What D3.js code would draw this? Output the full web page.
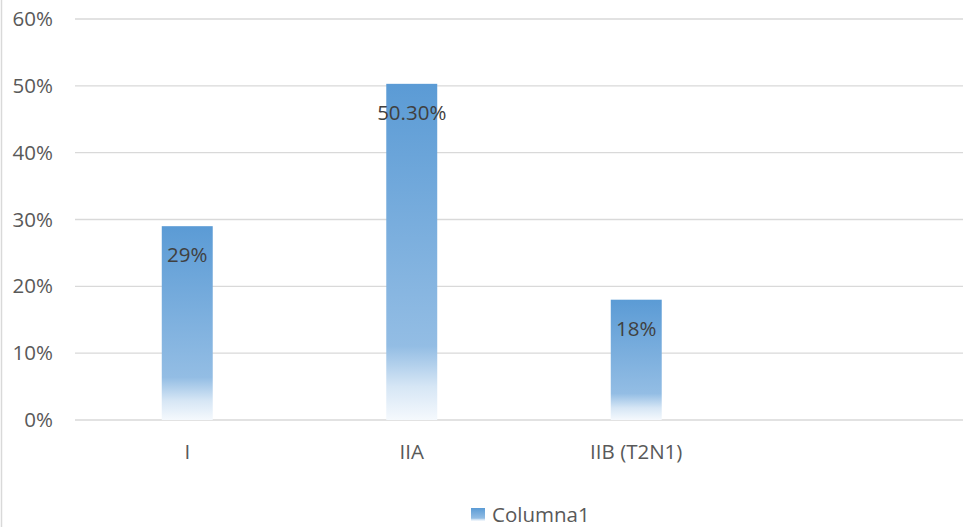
<!DOCTYPE html>
<html>
<head>
<meta charset="utf-8">
<script src="https://cdn.jsdelivr.net/npm/d3@7"></script>
<style>
  html, body { margin: 0; padding: 0; background: #fff; overflow: hidden; }
  svg { display: block; font-family: "Open Sans", "Noto Sans", sans-serif; }
</style>
</head>
<body>
<div id="chart"></div>
<script>
const categories = ['I', 'IIA', 'IIB (T2N1)', ''];
const values = [0.29, 0.503, 0.18, null];
const valueLabels = ['29%', '50.30%', '18%', ''];
const yTicks = [0, 0.1, 0.2, 0.3, 0.4, 0.5, 0.6];
const seriesName = 'Columna1';

const W = 963, H = 527;
const margin = { top: 19, left: 75, bottom: 107 };
const plotRight = 973;
const FONT = '20.5px';

const svg = d3.select('#chart')
  .append('svg')
  .attr('width', W)
  .attr('height', H);

const defs = svg.append('defs');
const grad = defs.append('linearGradient')
  .attr('id', 'barGrad')
  .attr('x1', 0).attr('y1', 0).attr('x2', 0).attr('y2', 1);
[
  [0, '#5b9bd5'],
  [0.78, '#93bde4'],
  [0.9, '#d6e6f5'],
  [1, '#f5f9fd']
].forEach(([o, c]) => grad.append('stop').attr('offset', o).attr('stop-color', c));

// outer chart border (left edge visible)
svg.append('line')
  .attr('x1', 1.5).attr('x2', 1.5)
  .attr('y1', 0).attr('y2', H)
  .attr('stroke', '#d9d9d9')
  .attr('stroke-width', 1.5);

const x = d3.scaleBand()
  .domain(categories)
  .range([margin.left, plotRight])
  .padding(0);

const y = d3.scaleLinear()
  .domain([0, 0.6])
  .range([H - margin.bottom, margin.top]);

// gridlines
svg.append('g')
  .selectAll('line')
  .data(yTicks)
  .join('line')
  .attr('x1', margin.left)
  .attr('x2', plotRight)
  .attr('y1', d => y(d))
  .attr('y2', d => y(d))
  .attr('stroke', '#d9d9d9')
  .attr('stroke-width', 1.3);

// y tick labels
const yAxis = svg.append('g')
  .attr('transform', 'translate(53,0)')
  .call(d3.axisLeft(y).tickValues(yTicks).tickFormat(d3.format('.0%')).tickSize(0).tickPadding(0));
yAxis.select('.domain').remove();
yAxis.selectAll('text')
  .attr('fill', '#595959')
  .attr('font-size', FONT)
  .attr('font-family', '"Open Sans", sans-serif');

// x category labels
const xAxis = svg.append('g')
  .attr('transform', `translate(0,${y(0)})`)
  .call(d3.axisBottom(x).tickSize(0));
xAxis.select('.domain').remove();
xAxis.selectAll('text')
  .attr('y', 32)
  .attr('dy', '0.35em')
  .attr('fill', '#595959')
  .attr('font-size', FONT)
  .attr('font-family', '"Open Sans", sans-serif');

// bars
const barW = x.bandwidth() * 0.227;
const data = categories.map((c, i) => ({ c, v: values[i], label: valueLabels[i] }))
  .filter(d => d.v != null);

svg.append('g')
  .selectAll('rect')
  .data(data)
  .join('rect')
  .attr('x', d => x(d.c) + x.bandwidth() / 2 - barW / 2)
  .attr('y', d => y(d.v))
  .attr('width', barW)
  .attr('height', d => y(0) - y(d.v))
  .attr('fill', 'url(#barGrad)');

// value labels
svg.append('g')
  .selectAll('text')
  .data(data)
  .join('text')
  .attr('x', d => x(d.c) + x.bandwidth() / 2)
  .attr('y', d => y(d.v) + 29)
  .attr('dy', '0.35em')
  .attr('text-anchor', 'middle')
  .attr('fill', '#404040')
  .attr('font-size', FONT)
  .text(d => d.label);

// legend
const legend = svg.append('g').attr('transform', 'translate(471,508)');
legend.append('rect')
  .attr('width', 14)
  .attr('height', 13)
  .attr('fill', 'url(#barGrad)');
legend.append('text')
  .attr('x', 21)
  .attr('y', 7)
  .attr('dy', '0.35em')
  .attr('fill', '#595959')
  .attr('font-size', FONT)
  .text(seriesName);
</script>
</body>
</html>
